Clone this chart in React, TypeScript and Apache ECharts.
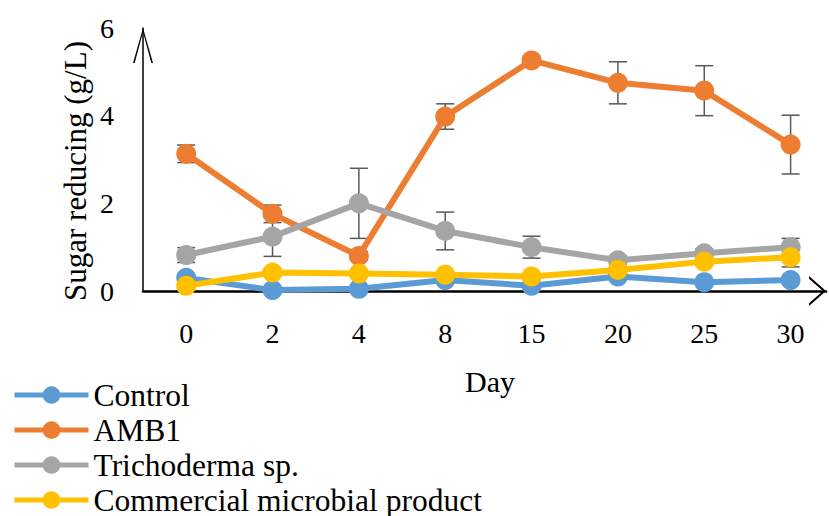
import React, { useEffect, useRef } from "react";
import * as echarts from "echarts";

const days = ["0", "2", "4", "8", "15", "20", "25", "30"];
const seriesNames = ["Control", "AMB1", "Trichoderma sp.", "Commercial microbial product"];
const colors = ["#5B9BD5", "#ED7D31", "#A5A5A5", "#FFC000"];

const control = [0.3, 0.02, 0.05, 0.25, 0.12, 0.33, 0.2, 0.25];
const controlErr = [0.05, 0.04, 0.04, 0.05, 0.04, 0.05, 0.05, 0.05];
const amb1 = [3.13, 1.76, 0.8, 3.98, 5.26, 4.75, 4.57, 3.34];
const amb1Err = [0.2, 0.2, 0.1, 0.29, 0.1, 0.48, 0.57, 0.67];
const tricho = [0.82, 1.24, 2.0, 1.37, 1.0, 0.7, 0.86, 1.0];
const trichoErr = [0.17, 0.45, 0.8, 0.43, 0.25, 0.1, 0.1, 0.2];
const commercial = [0.12, 0.42, 0.4, 0.37, 0.33, 0.48, 0.67, 0.77];
const commercialErr = [0.05, 0.08, 0.05, 0.05, 0.05, 0.05, 0.08, 0.22];

const yTicks = { min: 0, max: 6, interval: 2 };
const FONT = "'Times New Roman', 'Liberation Serif', serif";

export default function App() {
  const ref = useRef<HTMLDivElement>(null);
  useEffect(() => {
    if (!ref.current) return;
    const chart = echarts.init(ref.current, undefined, { renderer: "svg" });
    const values = [control, amb1, tricho, commercial];
    const errs = [controlErr, amb1Err, trichoErr, commercialErr];
    const errData: number[][] = [];
    values.forEach((arr, s) => {
      arr.forEach((v, i) => {
        errData.push([i, v - errs[s][i], v + errs[s][i]]);
      });
    });
    const lineSeries = values.map((arr, s) => ({
      type: "line",
      name: seriesNames[s],
      data: arr.map((v, i) => [i, v]),
      symbol: "circle",
      symbolSize: 20,
      color: colors[s],
      lineStyle: { width: 6, color: colors[s] },
      itemStyle: { color: colors[s] },
      z: 3,
    }));
    chart.setOption({
      animation: false,
      grid: { left: 143, right: 0, top: 28, bottom: 225, containLabel: false },
      legend: {
        orient: "vertical",
        left: 12,
        top: 379,
        height: 200,
        padding: 0,
        itemGap: 3,
        itemWidth: 74,
        itemHeight: 22,
        data: seriesNames,
        lineStyle: { width: 5 },
        textStyle: { fontFamily: FONT, fontSize: 31.5, color: "#000", lineHeight: 32 },
      },
      xAxis: {
        type: "value",
        min: -0.5,
        max: 7.41,
        interval: 0.5,
        splitLine: { show: false },
        axisTick: { show: false },
        axisLine: {
          show: true,
          onZero: false,
          lineStyle: { color: "#000", width: 2.5 },
          symbol: ["none", "path://M0,17 L15,0 L30,17 L27.3,17 L15,3 L2.7,17 Z"],
          symbolSize: [30, 17],
          symbolOffset: [0, -8.5],
        },
        axisLabel: {
          fontFamily: FONT,
          fontSize: 28,
          color: "#000",
          margin: 28,
          showMinLabel: true,
          showMaxLabel: true,
          formatter: (v: number) =>
            Number.isInteger(v) && v >= 0 && v < days.length ? days[v] : "",
        },
      },
      yAxis: {
        type: "value",
        min: yTicks.min,
        max: yTicks.max,
        interval: yTicks.interval,
        splitLine: { show: false },
        axisTick: { show: false },
        axisLine: {
          show: true,
          onZero: false,
          lineStyle: { color: "#000", width: 1.5 },
          symbol: ["none", "path://M0,35 L10,0 L20,35 L18.3,35 L10,4 L1.7,35 Z"],
          symbolSize: [20, 35],
          symbolOffset: [0, -17.5],
        },
        axisLabel: { fontFamily: FONT, fontSize: 28, color: "#000", margin: 29 },
      },
      graphic: [
        {
          type: "text",
          x: 75,
          y: 171,
          rotation: Math.PI / 2,
          style: {
            text: "Sugar reducing (g/L)",
            fontFamily: FONT,
            fontSize: 31,
            fill: "#000",
            align: "center",
            verticalAlign: "middle",
          },
        },
        {
          type: "text",
          x: 490,
          y: 381,
          style: {
            text: "Day",
            fontFamily: FONT,
            fontSize: 30,
            fill: "#000",
            align: "center",
            verticalAlign: "middle",
          },
        },
      ],
      series: [
        {
          type: "custom",
          name: "errors",
          data: errData,
          z: 1,
          encode: { x: 0, y: [1, 2] },
          renderItem: (params: any, api: any) => {
            const x = api.value(0);
            const lo = api.coord([x, api.value(1)]);
            const hi = api.coord([x, api.value(2)]);
            const hw = 9;
            const style = { stroke: "#595959", lineWidth: 1.5 };
            return {
              type: "group",
              children: [
                { type: "line", shape: { x1: lo[0], y1: lo[1], x2: hi[0], y2: hi[1] }, style },
                { type: "line", shape: { x1: lo[0] - hw, y1: lo[1], x2: lo[0] + hw, y2: lo[1] }, style },
                { type: "line", shape: { x1: hi[0] - hw, y1: hi[1], x2: hi[0] + hw, y2: hi[1] }, style },
              ],
            };
          },
        },
        ...lineSeries,
      ],
    });
    return () => chart.dispose();
  }, []);
  return (
    <div
      ref={ref}
      style={{ position: "absolute", left: 0, top: 0, width: 829, height: 516, background: "#fff" }}
    />
  );
}
